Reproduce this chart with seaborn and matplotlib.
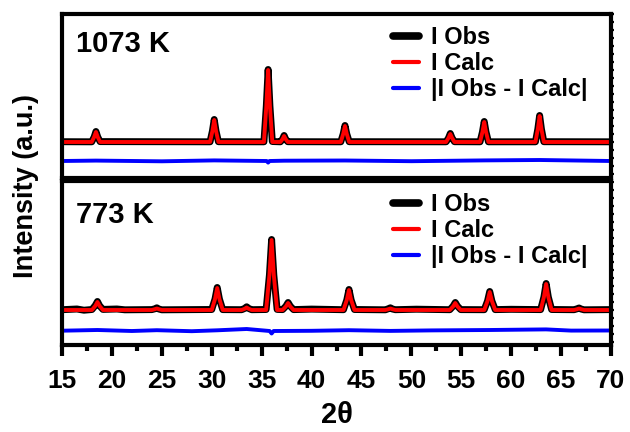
import matplotlib
matplotlib.use("Agg")
import matplotlib.pyplot as plt
import seaborn as sns
from matplotlib.ticker import MultipleLocator

# ---------------- data ----------------
# 1073 K panel
x_1073 = [15, 17.98, 18.22, 18.4, 18.58, 18.82,
          29.83, 30.07, 30.25, 30.43, 30.67,
          35.23, 35.47, 35.65, 35.83, 36.07,
          36.88, 37.1, 37.25, 37.4, 37.62,
          42.93, 43.17, 43.35, 43.53, 43.77,
          53.48, 53.72, 53.9, 54.08, 54.32,
          56.88, 57.12, 57.3, 57.48, 57.72,
          62.43, 62.67, 62.85, 63.03, 63.27, 70]
calc_1073 = [0, 0, 5, 10, 5, 0,
             0, 11, 22, 11, 0,
             0, 36, 72, 36, 0,
             0, 3, 6, 3, 0,
             0, 8, 16, 8, 0,
             0, 4, 8, 4, 0,
             0, 10, 20, 10, 0,
             0, 13, 26, 13, 0, 0]
obs_1073 = [0.3, 0.2, 5, 10.5, 5, 0.4,
            0.2, 11, 22.5, 11, 0.3,
            0.2, 36, 72.5, 36, 0.5,
            0.2, 3, 6.5, 3, 0.3,
            0.2, 8, 16.5, 8, 0.3,
            0.2, 4, 8.5, 4, 0.3,
            0.2, 10, 20.5, 10, 0.2,
            0.2, 13, 26.5, 13, 0.3, 0.2]
dx_1073 = [15, 18.4, 25.0, 30.25, 35.5, 35.65, 35.8, 37.25, 43.35, 50.0, 57.3, 62.85, 70]
diff_1073 = [-19, -18.6, -19.3, -18.4, -19, -20.6, -19, -18.7, -18.5, -19.2, -18.4, -18.0, -19]

# 773 K panel
x_773 = [15, 16.5, 17.2, 18.0, 18.33, 18.55, 18.77, 19.1, 20.5, 21.3,
         24.0, 24.3, 24.5, 24.7, 25.0,
         30.0, 30.33, 30.55, 30.77, 31.1,
         33.0, 33.3, 33.5, 33.7, 34.0,
         35.45, 35.78, 36.0, 36.22, 36.55,
         37.1, 37.43, 37.65, 37.87, 38.2, 40.0,
         43.2, 43.53, 43.75, 43.97, 44.3,
         47.4, 47.7, 47.9, 48.1, 48.4, 50.5,
         53.85, 54.18, 54.4, 54.62, 54.95,
         57.3, 57.63, 57.85, 58.07, 58.4, 60.0,
         62.95, 63.28, 63.5, 63.72, 64.05,
         66.3, 66.6, 66.8, 67.0, 67.3, 70]
calc_773 = [0, 0, 0, 0, 4, 8, 4, 0, 0, 0,
            0, 0.8, 1.5, 0.8, 0,
            0, 11, 22, 11, 0,
            0, 1.2, 2.5, 1.2, 0,
            0, 35, 70, 35, 0,
            0, 3.5, 7, 3.5, 0, 0,
            0, 10, 20, 10, 0,
            0, 0.8, 1.5, 0.8, 0, 0,
            0, 3.5, 7, 3.5, 0,
            0, 9, 18, 9, 0, 0,
            0, 13, 26, 13, 0,
            0, 0.8, 1.5, 0.8, 0, 0]
obs_773 = [0.3, 1.0, -0.2, 0.5, 4.5, 8.5, 4.2, 0.6, 1.0, 0.2,
           0.4, 1.2, 2.2, 1.0, 0.2,
           0.5, 11, 22.5, 11, 0.4,
           0.3, 1.6, 3.2, 1.6, 0.3,
           0.5, 35, 70.5, 35, 0.6,
           0.4, 3.8, 7.5, 3.8, 0.4, 0.9,
           0.3, 10, 20.5, 10, 0.5,
           0.2, 1.3, 2.2, 1.0, 0.3, 0.8,
           0.3, 3.8, 7.5, 3.8, 0.4,
           0.3, 9, 18.5, 9, 0.4, 0.7,
           0.4, 13, 26.5, 13, 0.5,
           0.3, 1.2, 2.0, 1.0, 0.2, 0.4]
dx_773 = [15, 18.55, 22.0, 24.5, 28.0, 30.55, 33.5, 35.8, 36.0, 36.2, 40.0, 43.75, 47.9, 52.0, 57.85, 63.5, 66.0, 70]
diff_773 = [-20.7, -20.0, -21.0, -20.2, -21.2, -20.3, -19.0, -21.0, -23.5, -21.0, -20.8, -20.2, -20.9, -20.4, -20.0, -19.4, -20.6, -20.5]

panel_labels = ["1073 K", "773 K"]
legend_labels = ["I Obs", "I Calc", "|I Obs - I Calc|"]
x_ticks = [15, 20, 25, 30, 35, 40, 45, 50, 55, 60, 65, 70]

# ---------------- styling ----------------
sns.set_theme(style="ticks")
plt.rcParams["font.family"] = ["Liberation Sans", "DejaVu Sans"]
plt.rcParams["font.weight"] = "bold"
for key in ["text.color", "axes.labelcolor", "xtick.color", "ytick.color", "axes.edgecolor"]:
    plt.rcParams[key] = "black"
narrow = ["Liberation Sans Narrow", "Liberation Sans", "DejaVu Sans"]

fig = plt.figure(figsize=(6.3, 4.32), dpi=100)
left, width = 62 / 630, 549 / 630
h = 164 / 432
ax_top = fig.add_axes([left, 1 - 178 / 432, width, h])
ax_bot = fig.add_axes([left, 1 - 345 / 432, width, h])

panels = [
    (ax_top, x_1073, obs_1073, calc_1073, dx_1073, diff_1073, (-36, 128), 0.768, panel_labels[0]),
    (ax_bot, x_773, obs_773, calc_773, dx_773, diff_773, (-35, 129), 0.744, panel_labels[1]),
]

for ax, xs, obs, calc, dxs, diff, ylim, ly, plabel in panels:
    sns.lineplot(x=xs, y=obs, ax=ax, color="black", linewidth=5.0, sort=False,
                 estimator=None, label=legend_labels[0], solid_capstyle="round",
                 solid_joinstyle="round")
    sns.lineplot(x=xs, y=calc, ax=ax, color="#ff0000", linewidth=2.8, sort=False,
                 estimator=None, label=legend_labels[1], solid_joinstyle="round")
    sns.lineplot(x=dxs, y=diff, ax=ax, color="#0000ff", linewidth=2.8, sort=False,
                 estimator=None, label=legend_labels[2], solid_joinstyle="round")
    ax.set_xlim(15, 70)
    ax.set_ylim(*ylim)
    ax.set_xlabel("")
    ax.set_ylabel("")
    for sp in ax.spines.values():
        sp.set_visible(True)
        sp.set_linewidth(3)
        sp.set_color("black")
    ax.yaxis.set_major_locator(MultipleLocator(8))
    ax.tick_params(axis="y", which="both", left=True, right=True, direction="out",
                   length=1.8, width=1.6, labelleft=False, labelright=False, color="black")
    leg = ax.legend(loc="upper left", bbox_to_anchor=(0.603, 0.925), frameon=False,
                    fontsize=17, handlelength=1.1, handletextpad=0.5,
                    labelspacing=0.12, borderaxespad=0, borderpad=0)
    for t in leg.get_texts():
        t.set_fontweight("bold")
        t.set_color("black")
    lw = [5.5, 3.0, 3.0]
    for ln, w in zip(leg.get_lines(), lw):
        ln.set_linewidth(w)
        ln.set_solid_capstyle("round")
    ax.text(0.026, ly, plabel, transform=ax.transAxes, fontsize=21, fontweight="bold",
            va="baseline", ha="left", color="black")

ax_top.tick_params(axis="x", which="both", bottom=False, top=False, labelbottom=False)
ax_bot.set_xticks(x_ticks)
ax_bot.xaxis.set_minor_locator(MultipleLocator(2.5))
ax_bot.tick_params(axis="x", which="major", direction="out", length=8, width=3,
                   bottom=True, top=False, color="black", pad=9)
ax_bot.tick_params(axis="x", which="minor", direction="out", length=4.5, width=3,
                   bottom=True, top=False, color="black")
for lab in ax_bot.get_xticklabels():
    lab.set_family(narrow)
    lab.set_fontsize(19)
    lab.set_fontweight("bold")
    lab.set_color("black")
ax_bot.set_xlabel("2θ", family=narrow, fontsize=21, fontweight="bold", color="black",
                  labelpad=6)

fig.text(26 / 630, 1 - 186 / 432, "Intensity (a.u.)", rotation=90, fontsize=19.5,
         fontweight="bold", ha="center", va="center", color="black")

fig.savefig("out.png", dpi=100)
